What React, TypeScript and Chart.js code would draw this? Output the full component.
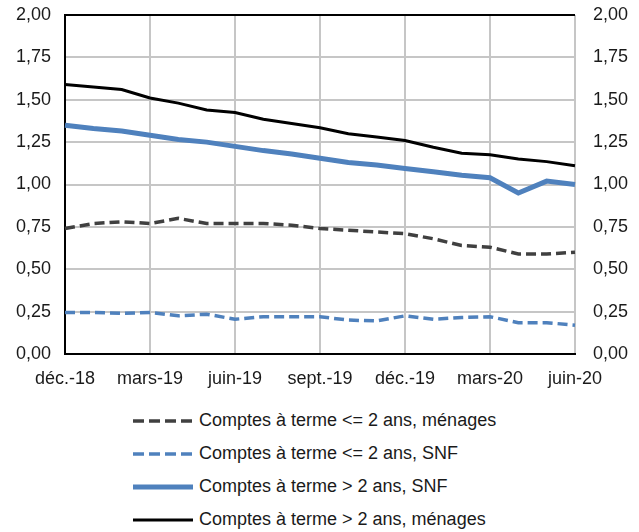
import React, { useEffect, useRef } from "react";
import { Chart, registerables } from "chart.js";

Chart.register(...registerables);

const months = [
  "déc.-18", "janv.-19", "févr.-19", "mars-19", "avr.-19", "mai-19", "juin-19",
  "juil.-19", "août-19", "sept.-19", "oct.-19", "nov.-19", "déc.-19", "janv.-20",
  "févr.-20", "mars-20", "avr.-20", "mai-20", "juin-20",
];

const menagesLe2 = [0.74, 0.77, 0.78, 0.77, 0.8, 0.77, 0.77, 0.77, 0.76, 0.74, 0.73, 0.72, 0.71, 0.68, 0.64, 0.63, 0.59, 0.59, 0.6];
const snfLe2 = [0.245, 0.245, 0.24, 0.245, 0.225, 0.235, 0.205, 0.22, 0.22, 0.22, 0.2, 0.195, 0.225, 0.205, 0.215, 0.22, 0.185, 0.185, 0.17];
const snfGt2 = [1.35, 1.33, 1.315, 1.29, 1.265, 1.25, 1.225, 1.2, 1.18, 1.155, 1.13, 1.115, 1.095, 1.075, 1.055, 1.04, 0.95, 1.02, 1.0];
const menagesGt2 = [1.59, 1.575, 1.56, 1.51, 1.48, 1.44, 1.425, 1.385, 1.36, 1.335, 1.3, 1.28, 1.26, 1.22, 1.185, 1.175, 1.15, 1.135, 1.11];

const seriesNames = [
  "Comptes à terme <= 2 ans, ménages",
  "Comptes à terme <= 2 ans, SNF",
  "Comptes à terme > 2 ans, SNF",
  "Comptes à terme > 2 ans, ménages",
];

const FONT = "'Liberation Sans', Arial, sans-serif";
const BLUE = "#4F81BD";
const GRAY = "#404040";
const GRID = "#C6C6C6";
const TEXT = "#1a1a1a";

const styles = [
  { color: GRAY, width: 3.5, dash: [10, 5] },
  { color: BLUE, width: 3.5, dash: [10, 5] },
  { color: BLUE, width: 5, dash: [] as number[] },
  { color: "#000000", width: 3, dash: [] as number[] },
];

const fmt = (v: number) => v.toFixed(2).replace(".", ",");

export default function App() {
  const ref = useRef<HTMLCanvasElement | null>(null);

  useEffect(() => {
    if (!ref.current) return;
    const values = [menagesLe2, snfLe2, snfGt2, menagesGt2];
    const chart = new Chart(ref.current, {
      type: "line",
      data: {
        labels: months,
        datasets: values.map((d, i) => ({
          label: seriesNames[i],
          data: d,
          borderColor: styles[i].color,
          backgroundColor: styles[i].color,
          borderWidth: styles[i].width,
          borderDash: styles[i].dash,
          pointRadius: 0,
          tension: 0,
          fill: false,
          order: 4 - i,
        })),
      },
      options: {
        responsive: false,
        animation: false,
        layout: { padding: { top: 15, left: 0, right: 0, bottom: 0 } },
        plugins: { legend: { display: false }, tooltip: { enabled: false } },
        scales: {
          x: {
            grid: {
              drawTicks: false,
              lineWidth: 2,
              color: (ctx: any) =>
                ctx.index === 0 ? "#000" : ctx.index % 3 === 0 ? GRID : "rgba(0,0,0,0)",
            },
            border: { display: true, color: "#000", width: 2 },
            ticks: {
              autoSkip: false,
              maxRotation: 0,
              padding: 14,
              color: TEXT,
              font: { family: FONT, size: 18 },
              callback: (_v: any, i: number) => (i % 3 === 0 ? months[i] : ""),
            },
            afterFit: (s: any) => {
              s.height = 46;
              s.paddingLeft = 0;
              s.paddingRight = 0;
            },
          },
          y: {
            position: "left",
            min: 0,
            max: 2,
            grid: {
              drawTicks: false,
              lineWidth: 2,
              color: (ctx: any) =>
                ctx.tick && (ctx.tick.value === 2 || ctx.tick.value === 0) ? "#000" : GRID,
            },
            border: { display: true, color: "#000", width: 2 },
            ticks: {
              stepSize: 0.25,
              padding: 14,
              color: TEXT,
              font: { family: FONT, size: 18 },
              callback: (v: any) => fmt(Number(v)),
            },
            afterFit: (s: any) => {
              s.width = 65;
              s.paddingTop = 0;
              s.paddingBottom = 0;
            },
          },
          y1: {
            position: "right",
            min: 0,
            max: 2,
            grid: { display: false, drawTicks: false },
            border: { display: false },
            ticks: {
              stepSize: 0.25,
              padding: 18,
              color: TEXT,
              font: { family: FONT, size: 18 },
              callback: (v: any) => fmt(Number(v)),
            },
            afterFit: (s: any) => {
              s.width = 64;
              s.paddingTop = 0;
              s.paddingBottom = 0;
            },
          },
        },
      },
    });
    return () => chart.destroy();
  }, []);

  return (
    <div style={{ position: "absolute", left: 0, top: 0, width: 639, height: 532, background: "#fff" }}>
      <canvas ref={ref} width={639} height={400} style={{ display: "block", width: 639, height: 400 }} />
      <div
        style={{
          position: "absolute",
          left: 133,
          top: 404,
          fontFamily: FONT,
          fontSize: 18,
          color: TEXT,
        }}
      >
        {seriesNames.map((name, i) => (
          <div key={i} style={{ display: "flex", alignItems: "center", height: 33, whiteSpace: "nowrap" }}>
            <svg width={60} height={10} style={{ marginRight: 6, flex: "none" }}>
              <line
                x1={0}
                y1={5}
                x2={60}
                y2={5}
                stroke={styles[i].color}
                strokeWidth={styles[i].width}
                strokeDasharray={styles[i].dash.length ? "11 5" : undefined}
              />
            </svg>
            <span>{name}</span>
          </div>
        ))}
      </div>
    </div>
  );
}
